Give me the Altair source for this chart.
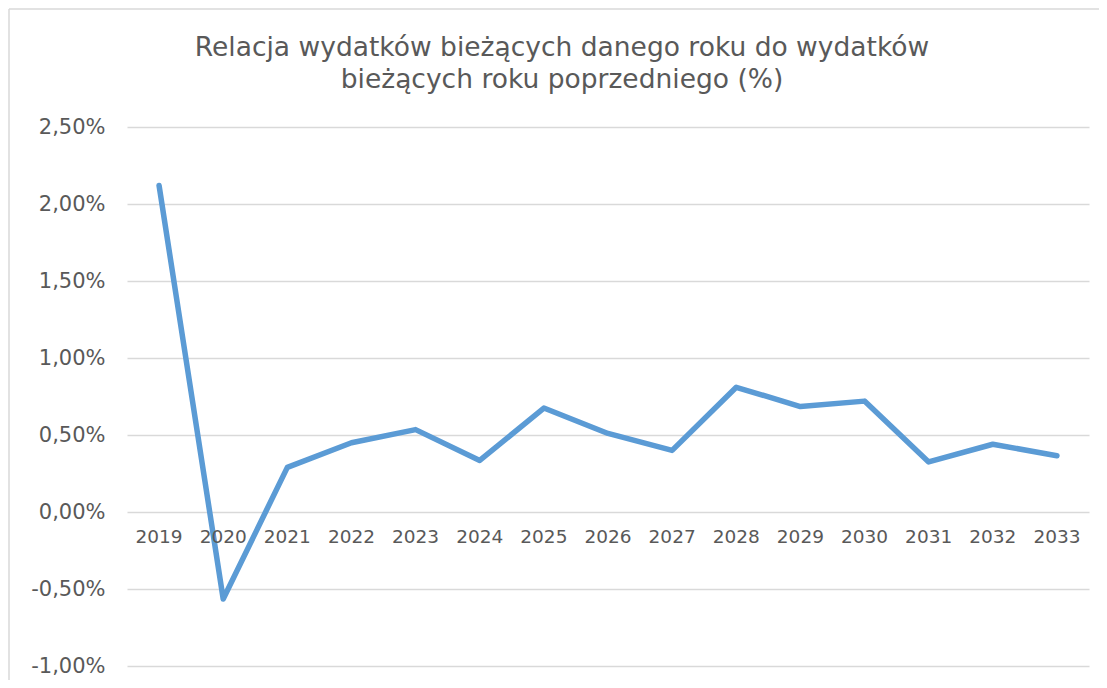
import altair as alt
import pandas as pd

years = ["2019", "2020", "2021", "2022", "2023", "2024", "2025", "2026",
         "2027", "2028", "2029", "2030", "2031", "2032", "2033"]
values = [2.12, -0.565, 0.29, 0.45, 0.535, 0.335, 0.675, 0.51,
          0.40, 0.81, 0.685, 0.72, 0.325, 0.44, 0.365]
y_ticks = [-1.0, -0.5, 0.0, 0.5, 1.0, 1.5, 2.0, 2.5]
title_text = ("Relacja wydatków bieżących danego roku do wydatków\n"
              "bieżących roku poprzedniego (%)")

df = pd.DataFrame({"rok": years, "wartosc": values})

FONT = "DejaVu Sans"
TXT = "#595959"
GRID = "#D9D9D9"

x_enc = alt.X("rok:O", scale=alt.Scale(type="point", padding=0.5), axis=None)

line = alt.Chart(df).mark_line(
    color="#5B9BD5", strokeWidth=5.5, strokeCap="round", strokeJoin="round"
).encode(
    x=x_enc,
    y=alt.Y(
        "wartosc:Q",
        scale=alt.Scale(domain=[-1.0, 2.5], nice=False, zero=False),
        axis=alt.Axis(
            values=y_ticks,
            title=None,
            domain=False,
            ticks=False,
            grid=True,
            gridColor=GRID,
            gridWidth=1.5,
            labelFont=FONT,
            labelFontSize=21,
            labelColor=TXT,
            labelPadding=22,
            labelExpr="(datum.value < 0 ? '-' : '') + replace(format(abs(datum.value), '.2f'), '.', ',') + '%'",
        ),
    ),
)

labels = alt.Chart(df).mark_text(
    font=FONT, fontSize=18.5, color=TXT, baseline="middle", dy=25
).encode(
    x=x_enc,
    y=alt.datum(0),
    text="rok:N",
)

one = pd.DataFrame({"t": [title_text]})

title = alt.Chart(one).mark_text(
    font=FONT, fontSize=26.5, color=TXT, align="center", baseline="alphabetic",
    lineBreak="\n", lineHeight=32,
).encode(
    x=alt.value(435), y=alt.value(-71), text="t:N",
)

border_left = alt.Chart(one).mark_rule(stroke=GRID, strokeWidth=1.5).encode(
    x=alt.value(-118), y=alt.value(-118), y2=alt.value(600),
)
border_top = alt.Chart(one).mark_rule(stroke=GRID, strokeWidth=1.5).encode(
    x=alt.value(-118), x2=alt.value(1000), y=alt.value(-118),
)

chart = alt.layer(border_left, border_top, title, line, labels).properties(
    width=962,
    height=539,
    background="white",
    autosize=alt.AutoSizeParams(type="none"),
    padding={"left": 119, "top": 119, "right": 10, "bottom": 14},
).configure_view(stroke=None, strokeWidth=0)

chart.save("out.html", embed_options={"renderer": "svg", "actions": False})
